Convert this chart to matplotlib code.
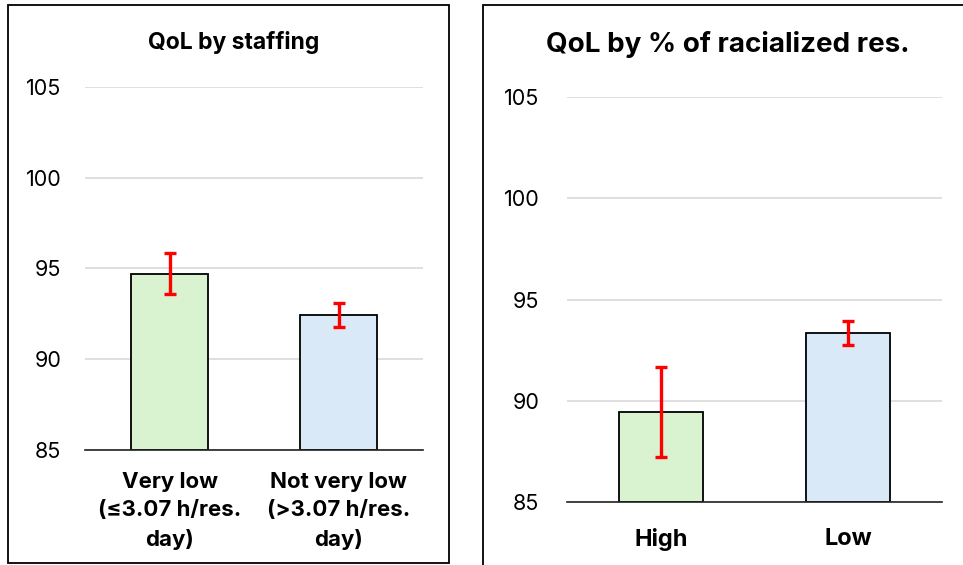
import matplotlib.pyplot as plt
from matplotlib.patches import Rectangle

plt.rcParams['font.family'] = ['Inter', 'DejaVu Sans']

# Left panel data
staff_labels = ['Very low\n(≤3.07 h/res.\nday)', 'Not very low\n(>3.07 h/res.\nday)']
staff_means = [94.7, 92.43]
staff_err = [1.13, 0.68]

# Right panel data
race_labels = ['High', 'Low']
race_means = [89.43, 93.35]
race_err = [2.22, 0.6]

yticks = [85, 90, 95, 100, 105]
bar_colors = ['#D9F2D0', '#DAE9F8']

W, H = 963, 565
fig = plt.figure(figsize=(W / 100, H / 100), dpi=100)


def px_box(x0, y0, x1, y1):
    """ convert pixel box (top-left origin) to figure fraction rect """
    return [x0 / W, 1 - y1 / H, (x1 - x0) / W, (y1 - y0) / H]


# panel borders
fig.patches.append(Rectangle((8 / W, 1 - 563 / H), (449 - 8) / W, (563 - 5) / H,
                             transform=fig.transFigure, fill=False, edgecolor='black', lw=1.3))
fig.patches.append(Rectangle((483 / W, -0.1), 0.6, 1 - 5 / H + 0.1,
                             transform=fig.transFigure, fill=False, edgecolor='black', lw=1.3))


def draw_panel(ax, labels, means, errs, label_size, label_pad, tick_pad):
    x = range(len(labels))
    ax.bar(x, [m - 85 for m in means], bottom=85, width=0.45, color=bar_colors,
           edgecolor='black', linewidth=1.3, zorder=2)
    ax.errorbar(x, means, yerr=errs, fmt='none', ecolor='#FF0000', elinewidth=2.4,
                capsize=4, capthick=2.4, zorder=3)
    ax.set_xlim(-0.5, len(labels) - 0.5)
    ax.set_ylim(85, 105)
    ax.set_yticks(yticks)
    ax.yaxis.grid(True, color='#D9D9D9', lw=1.2, zorder=0)
    ax.set_axisbelow(True)
    for s in ['left', 'right', 'top']:
        ax.spines[s].set_visible(False)
    ax.spines['bottom'].set_color('#222222')
    ax.spines['bottom'].set_linewidth(1.2)
    ax.spines['bottom'].set_zorder(4)
    ax.set_xticks(list(x))
    ax.set_xticklabels(labels, fontweight='bold', fontsize=label_size, linespacing=1.5)
    ax.tick_params(axis='y', length=0, pad=tick_pad, labelsize=15.5)
    ax.tick_params(axis='x', length=0, pad=label_pad)


ax1 = fig.add_axes(px_box(85, 87, 423, 450))
draw_panel(ax1, staff_labels, staff_means, staff_err, 16, 16, 17)
ax2 = fig.add_axes(px_box(567, 97, 942, 502))
draw_panel(ax2, race_labels, race_means, race_err, 17, 19, 20)

fig.text(234 / W, 1 - 43 / H, 'QoL by staffing', ha='center', va='center',
         fontsize=16.5, fontweight='bold')
fig.text(728 / W, 1 - 45 / H, 'QoL by % of racialized res.', ha='center', va='center',
         fontsize=20, fontweight='bold')

fig.savefig('out.png', dpi=100)
